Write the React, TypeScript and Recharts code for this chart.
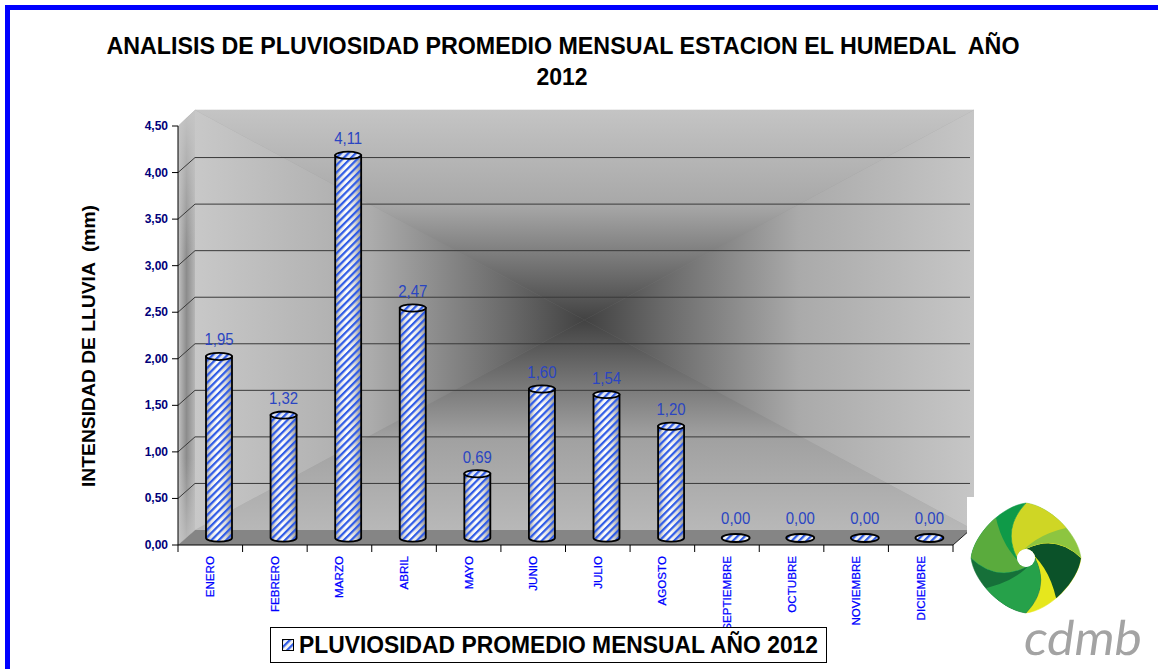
import React from "react";
import { BarChart, Bar, XAxis, YAxis, CartesianGrid, LabelList, Legend, ReferenceArea } from "recharts";

const months = ["ENERO", "FEBRERO", "MARZO", "ABRIL", "MAYO", "JUNIO", "JULIO", "AGOSTO", "SEPTIEMBRE", "OCTUBRE", "NOVIEMBRE", "DICIEMBRE"];
const rainfall = [1.95, 1.32, 4.11, 2.47, 0.69, 1.6, 1.54, 1.2, 0, 0, 0, 0];
const yTicks = [0, 0.5, 1, 1.5, 2, 2.5, 3, 3.5, 4, 4.5];
const titleLines = ["ANALISIS DE PLUVIOSIDAD PROMEDIO MENSUAL ESTACION EL HUMEDAL  AÑO", "2012"];
const yAxisTitle = "INTENSIDAD DE LLUVIA  (mm)";
const seriesName = "PLUVIOSIDAD PROMEDIO MENSUAL AÑO 2012";
const logoText = "cdmb";

const data = months.map((m, i) => ({ month: m, value: rainfall[i] }));

const FONT = "'Liberation Sans', Arial, sans-serif";
const DX = 17;
const DY = -15;
const BX = 9;
const BY = -7;

const fmt = (v: number) => Number(v).toFixed(2).replace(".", ",");

const Defs = () => (
  <svg width={0} height={0} style={{ position: "absolute" }}>
    <defs>
      <pattern id="stripes" patternUnits="userSpaceOnUse" width={5.2} height={5.2} patternTransform="rotate(45)">
        <rect x={0} y={0} width={2.2} height={5.2} fill="#2f5be6" />
      </pattern>
      <linearGradient id="cylShade" x1="0" y1="0" x2="1" y2="0">
        <stop offset="0" stopColor="#a4a4a4" />
        <stop offset="0.2" stopColor="#e6e6e6" />
        <stop offset="0.45" stopColor="#ffffff" />
        <stop offset="0.75" stopColor="#dcdcdc" />
        <stop offset="1" stopColor="#929292" />
      </linearGradient>
      <linearGradient id="wTop" x1="0" y1="0" x2="0" y2="1">
        <stop offset="0" stopColor="#c4c4c4" />
        <stop offset="0.45" stopColor="#a8a8a8" />
        <stop offset="0.8" stopColor="#686868" />
        <stop offset="1" stopColor="#424242" />
      </linearGradient>
      <linearGradient id="wBot" x1="0" y1="1" x2="0" y2="0">
        <stop offset="0" stopColor="#b8b8b8" />
        <stop offset="0.45" stopColor="#a0a0a0" />
        <stop offset="0.8" stopColor="#656565" />
        <stop offset="1" stopColor="#424242" />
      </linearGradient>
      <linearGradient id="wLeft" x1="0" y1="0" x2="1" y2="0">
        <stop offset="0" stopColor="#c8c8c8" />
        <stop offset="0.45" stopColor="#acacac" />
        <stop offset="0.8" stopColor="#6a6a6a" />
        <stop offset="1" stopColor="#424242" />
      </linearGradient>
      <linearGradient id="wRight" x1="1" y1="0" x2="0" y2="0">
        <stop offset="0" stopColor="#c6c6c6" />
        <stop offset="0.45" stopColor="#aaaaaa" />
        <stop offset="0.8" stopColor="#696969" />
        <stop offset="1" stopColor="#424242" />
      </linearGradient>
      <linearGradient id="side" x1="0" y1="0" x2="1" y2="0">
        <stop offset="0" stopColor="#c4c4c4" />
        <stop offset="0.5" stopColor="#8c8c8c" />
        <stop offset="1" stopColor="#b6b6b6" />
      </linearGradient>
      <linearGradient id="sideFade" x1="0" y1="0" x2="0" y2="1">
        <stop offset="0" stopColor="#c6c6c6" stopOpacity="0.95" />
        <stop offset="0.35" stopColor="#c6c6c6" stopOpacity="0" />
        <stop offset="0.8" stopColor="#c6c6c6" stopOpacity="0" />
        <stop offset="1" stopColor="#c6c6c6" stopOpacity="0.8" />
      </linearGradient>
    </defs>
  </svg>
);

const Walls = (p: any) => {
  const { x, y, width, height } = p;
  if (x == null || !isFinite(x)) return null;
  const fx0 = x;
  const fx1 = x + width;
  const fyT = y;
  const fyB = y + height;
  const bx0 = fx0 + DX;
  const bx1 = fx1 + DX + 4;
  const byT = fyT + DY - 1;
  const byB = fyB + DY;
  const cx = (bx0 + bx1) / 2;
  const cy = (byT + byB) / 2;
  return (
    <g>
      <rect x={bx0} y={byT} width={bx1 - bx0} height={byB - byT} fill="#8a8a8a" />
      <polygon points={`${bx0},${byT} ${bx1},${byT} ${cx},${cy}`} fill="url(#wTop)" stroke="url(#wTop)" strokeWidth={0.6} />
      <polygon points={`${bx0},${byB} ${bx1},${byB} ${cx},${cy}`} fill="url(#wBot)" stroke="url(#wBot)" strokeWidth={0.6} />
      <polygon points={`${bx0},${byT} ${bx0},${byB} ${cx},${cy}`} fill="url(#wLeft)" />
      <polygon points={`${bx1},${byT} ${bx1},${byB} ${cx},${cy}`} fill="url(#wRight)" />
      <polygon points={`${fx0},${fyT} ${bx0},${byT} ${bx0},${byB} ${fx0},${fyB}`} fill="url(#side)" />
      <polygon points={`${fx0},${fyT} ${bx0},${byT} ${bx0},${byB} ${fx0},${fyB}`} fill="url(#sideFade)" />
      <polygon points={`${fx0},${fyB} ${bx0},${byB} ${fx1 + DX},${byB} ${fx1},${fyB}`} fill="#858585" />
      <line x1={fx1} y1={fyB} x2={fx1 + DX} y2={byB} stroke="#222" strokeWidth={1} />
    </g>
  );
};

const GridLine = (p: any) => {
  const { x1, x2, y1 } = p;
  if (y1 == null || !isFinite(y1)) return <g />;
  if (p.y != null && p.height != null) {
    if (Math.abs(y1 - p.y) < 1 || Math.abs(y1 - (p.y + p.height)) < 1) return <g key={p.key} />;
  }
  return (
    <path
      key={p.key}
      d={`M${x1},${y1} L${x1 + DX},${y1 + DY} L${x2 + DX},${y1 + DY}`}
      fill="none"
      stroke="#3a3a3a"
      strokeWidth={1}
    />
  );
};

const YTick = (p: any) => (
  <text x={p.x} y={p.y} dy={4} textAnchor="end" fontSize={12} fontWeight="bold" fill="#00007a" fontFamily={FONT}>
    {fmt(p.payload.value)}
  </text>
);

const XTick = (p: any) => {
  const { x, y, payload, index, width, visibleTicksCount } = p;
  let half = width / (visibleTicksCount || months.length) / 2;
  if (!isFinite(half)) half = payload && payload.offset ? payload.offset : 32;
  const tx = x + 4;
  const ty = y + 11;
  return (
    <g>
      <line x1={x + half} y1={y} x2={x + half} y2={y + 7} stroke="#000" strokeWidth={1} />
      {index === 0 ? <line x1={x - half} y1={y} x2={x - half} y2={y + 7} stroke="#000" strokeWidth={1} /> : null}
      <text x={tx} y={ty} transform={`rotate(-90 ${tx} ${ty})`} textAnchor="end" fontSize={11.6} fill="#0000ff" stroke="#0000ff" strokeWidth={0.25} fontFamily={FONT}>
        {payload.value}
      </text>
    </g>
  );
};

const Cylinder = (p: any) => {
  const { x, y, width, height } = p;
  if (x == null || !isFinite(x)) return <g />;
  const cx = x + width / 2 + BX;
  const rx = width / 2;
  const ry = 3.6;
  const top = y + BY;
  const bot = y + (height || 0) + BY;
  const l = cx - rx;
  const r = cx + rx;
  if (!height || height < 1) {
    return (
      <g>
        <ellipse cx={cx} cy={bot} rx={rx + 1} ry={ry + 0.4} fill="#f4f4f4" />
        <ellipse cx={cx} cy={bot} rx={rx + 1} ry={ry + 0.4} fill="url(#stripes)" stroke="#000" strokeWidth={1.8} />
      </g>
    );
  }
  const body = `M${l},${top} L${l},${bot} A${rx},${ry} 0 0 0 ${r},${bot} L${r},${top} Z`;
  return (
    <g>
      <path d={body} fill="url(#cylShade)" />
      <path d={body} fill="url(#stripes)" />
      <path d={body} fill="none" stroke="#000" strokeWidth={1.8} />
      <ellipse cx={cx} cy={top} rx={rx} ry={ry} fill="#e2e6f4" />
      <ellipse cx={cx} cy={top} rx={rx} ry={ry} fill="url(#stripes)" stroke="#000" strokeWidth={1.8} />
    </g>
  );
};

const BarLabel = (p: any) => {
  const { x, y, width, height, value } = p;
  if (x == null || !isFinite(x)) return null;
  const cx = x + width / 2 + BX;
  const zero = !height || height < 1;
  const by = zero ? y + (height || 0) + BY - 14 : y + BY - 11;
  return (
    <text
      x={cx}
      y={by}
      textAnchor="middle"
      fontSize={17}
      fill="#2a45c2"
      fontFamily={FONT}
      transform={`translate(${cx} ${by}) scale(0.88 1) translate(${-cx} ${-by})`}
    >
      {fmt(value)}
    </text>
  );
};

const LegendBox = (props: any) => {
  const item = props && props.payload && props.payload[0];
  const name = item && item.value ? item.value : seriesName;
  return (
    <div style={{ width: 557, height: 36, boxSizing: "border-box", border: "1px solid #000", background: "#fff" }}>
      <svg width={555} height={34} style={{ display: "block" }}>
        <rect x={11.5} y={11.5} width={11} height={11} fill="#f4f4f4" />
        <rect x={11.5} y={11.5} width={11} height={11} fill="url(#stripes)" stroke="#000" strokeWidth={1} />
        <text x={28} y={25} textLength={519} lengthAdjust="spacingAndGlyphs" fontSize={23} fontWeight="bold" fill="#000" fontFamily={FONT}>
          {name}
        </text>
      </svg>
    </div>
  );
};

const Logo = () => {
  const blades = [
    { rot: 0, inner: "#8dc540", outer: "#cfd625" },
    { rot: 90, inner: "#e6e71d", outer: "#0b5229" },
    { rot: 180, inner: "#167039", outer: "#26a14a" },
    { rot: 270, inner: "#0f9a48", outer: "#5aab3d" },
  ];
  const full = "M -9 0 Q -24 -30 0 -55 C 24 -52 52 -24 55 0 Q 30 -24 0 -9 A 9 9 0 0 0 -9 0 Z";
  const outer = "M -9 0 Q -24 -30 0 -55 L 45 -65 L 50 -32 Q 12 -26 -6 -4 Z";
  return (
    <g>
      <rect x={967} y={497} width={200} height={180} fill="#ffffff" />
      <defs>
        <clipPath id="bladeClip">
          <path d={full} />
        </clipPath>
      </defs>
      <g transform="translate(1026 558)">
        {blades.map((b) => (
          <g key={b.rot} transform={`rotate(${b.rot})`}>
            <path d={full} fill={b.inner} stroke={b.inner} strokeWidth={0.5} />
            <g clipPath="url(#bladeClip)">
              <path d={outer} fill={b.outer} />
            </g>
          </g>
        ))}
        <circle cx={0} cy={0} r={9} fill="#ffffff" />
      </g>
      <text
        x={1022}
        y={655}
        fontSize={48}
        fill="#a3a3a3"
        fontFamily="Lato, 'Open Sans', sans-serif"
        textLength={118}
        lengthAdjust="spacingAndGlyphs"
        transform="translate(1022 655) skewX(-8) translate(-1022 -655)"
      >
        {logoText}
      </text>
    </g>
  );
};

export default function App() {
  return (
    <div style={{ position: "absolute", left: 0, top: 0, width: 1158, height: 669, overflow: "hidden", background: "#fff" }}>
      <Defs />
      <BarChart width={1158} height={669} data={data} margin={{ top: 126, right: 205, bottom: 0, left: 0 }} barCategoryGap={0}>
        <ReferenceArea y1={0} y2={4.5} shape={(p: any) => <Walls {...p} />} ifOverflow="visible" zIndex={-200} />
        <CartesianGrid vertical={false} horizontal={(p: any) => <GridLine {...p} />} />
        <XAxis
          dataKey="month"
          height={124}
          interval={0}
          tickSize={0}
          tickMargin={0}
          tickLine={false}
          axisLine={{ stroke: "#000", strokeWidth: 1 }}
          tick={(p: any) => <XTick {...p} />}
        />
        <YAxis
          type="number"
          domain={[0, 4.5]}
          ticks={yTicks}
          width={178}
          tickSize={6}
          tickMargin={4}
          interval={0}
          tickLine={{ stroke: "#000" }}
          axisLine={{ stroke: "#000", strokeWidth: 1 }}
          tick={(p: any) => <YTick {...p} />}
        />
        <Bar dataKey="value" name={seriesName} barSize={26} isAnimationActive={false} shape={(p: any) => <Cylinder {...p} />}>
          <LabelList dataKey="value" content={(p: any) => <BarLabel {...p} />} />
        </Bar>
        <Legend
          layout="horizontal"
          verticalAlign="middle"
          align="center"
          content={(p: any) => <LegendBox {...p} />}
          wrapperStyle={{ left: 270, top: 627, width: 557, height: 36 }}
        />
      </BarChart>
      <svg width={1158} height={669} style={{ position: "absolute", left: 0, top: 0, pointerEvents: "none" }}>
        <text x={563} y={54} textAnchor="middle" fontSize={23} fontWeight="bold" fill="#000" fontFamily={FONT} textLength={913} lengthAdjust="spacingAndGlyphs" style={{ whiteSpace: "pre" }}>
          {titleLines[0]}
        </text>
        <text x={562} y={85} textAnchor="middle" fontSize={23} fontWeight="bold" fill="#000" fontFamily={FONT}>
          {titleLines[1]}
        </text>
        <text x={95} y={346} transform="rotate(-90 95 346)" textAnchor="middle" fontSize={19} fontWeight="bold" fill="#000" fontFamily={FONT} textLength={282} lengthAdjust="spacingAndGlyphs" style={{ whiteSpace: "pre" }}>
          {yAxisTitle}
        </text>
        <Logo />
      </svg>
      <div style={{ position: "absolute", left: 5, top: 5, width: 1400, height: 1000, border: "5px solid #0000ff", boxSizing: "border-box", pointerEvents: "none" }} />
    </div>
  );
}
